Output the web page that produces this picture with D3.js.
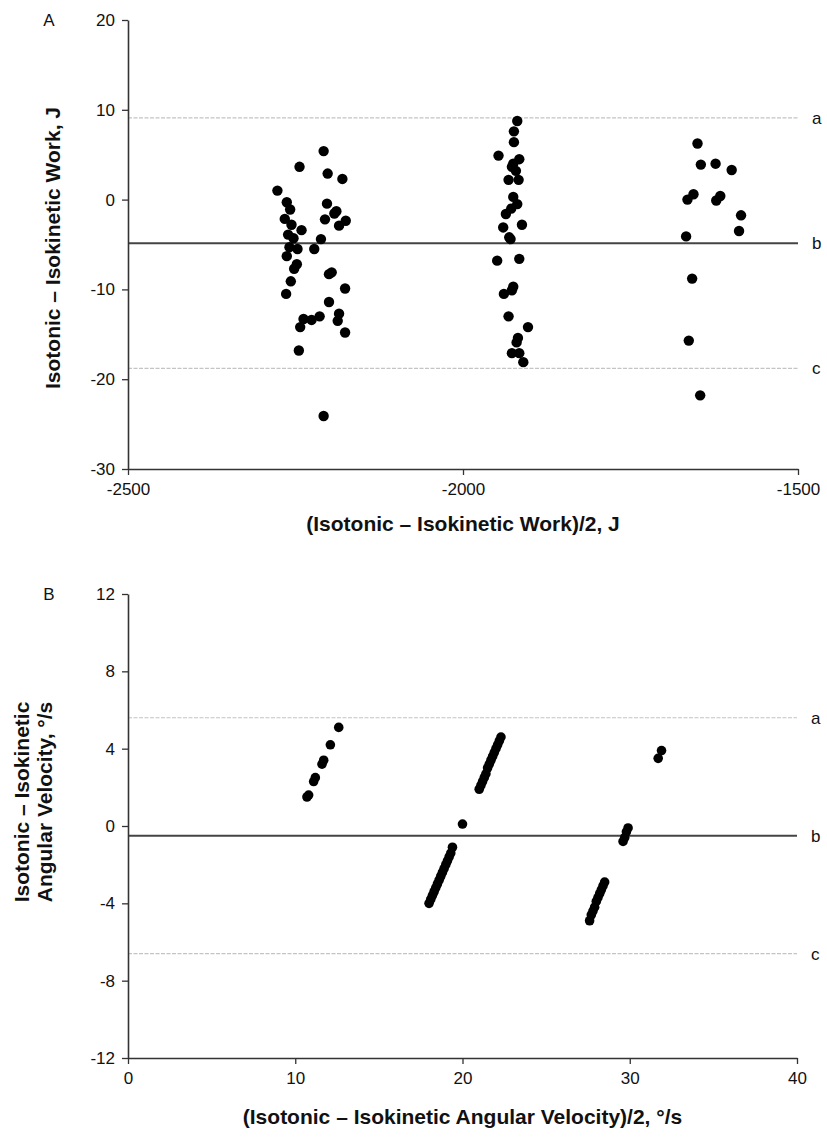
<!DOCTYPE html>
<html lang="en">
<head>
	<meta charset="UTF-8">
	<title>Bland-Altman plots</title>
	<script src="https://d3js.org/d3.v7.min.js"></script>
	<style>
		body { margin: 0; background: #fff; }
		text { font-family: "Liberation Sans", Arial, sans-serif; fill: #111; }
	</style>
</head>
<body>
	<script type="text/javascript">
		// Panel A : work (J)
		const workMean = [
			-2208, -2244, -2202, -2180, -2277, -2263, -2258, -2203, -2189, -2192,
			-2175, -2185, -2206, -2266, -2256, -2241, -2261, -2253, -2212, -2259,
			-2247, -2222, -2263, -2248, -2252, -2200, -2196, -2257, -2176, -2264,
			-2200, -2185, -2187, -2214, -2226, -2238, -2243, -2176, -2245, -2208,
			-1919, -1924, -1924, -1947, -1916, -1925, -1927, -1921, -1917, -1932,
			-1925, -1919, -1928, -1936, -1912, -1940, -1931, -1929, -1949, -1916,
			-1925, -1927, -1939, -1932, -1903, -1918, -1920, -1927, -1916, -1910,
			-1650, -1645, -1623, -1599, -1656, -1665, -1616, -1622, -1585, -1588,
			-1667, -1658, -1663, -1646
		];
		const workDiff = [
			5.4, 3.65, 2.9, 2.3, 1.0, -0.3, -1.1, -0.45, -1.3, -1.55,
			-2.35, -2.9, -2.2, -2.15, -2.8, -3.4, -3.9, -4.3, -4.4, -5.3,
			-5.5, -5.5, -6.3, -7.2, -7.7, -8.3, -8.1, -9.1, -9.9, -10.5,
			-11.4, -12.7, -13.5, -13.0, -13.4, -13.3, -14.2, -14.8, -16.8, -24.1,
			8.75, 7.6, 6.4, 4.9, 4.5, 4.0, 3.65, 3.2, 2.2, 2.2,
			0.3, -0.5, -1.0, -1.6, -2.8, -3.1, -4.2, -4.4, -6.8, -6.6,
			-9.7, -10.1, -10.5, -13.0, -14.2, -15.4, -15.9, -17.1, -17.1, -18.1,
			6.25, 3.9, 4.0, 3.3, 0.6, 0.0, 0.4, -0.1, -1.75, -3.5,
			-4.1, -8.8, -15.7, -21.8
		];
		const workLines = [9.1, -4.85, -18.8];   // a, b, c
		const workXTicks = [-2500, -2000, -1500];
		const workYTicks = [20, 10, 0, -10, -20, -30];

		// Panel B : angular velocity (deg/s)
		const velMean = [
			10.7, 10.8, 11.1, 11.2, 11.6, 11.7, 12.1, 12.6,
			21.0, 21.1, 21.2, 21.3, 21.4, 21.5, 21.6, 21.7, 21.8, 21.9, 22.0, 22.1, 22.2, 22.3,
			20.0,
			18.0, 18.1, 18.2, 18.3, 18.4, 18.5, 18.6, 18.7, 18.8, 18.9, 19.0, 19.1, 19.2, 19.3, 19.4,
			27.6, 27.7, 27.8, 27.9, 28.0, 28.1, 28.2, 28.3, 28.4, 28.5,
			29.6, 29.7, 29.8, 29.9,
			31.7, 31.9
		];
		const velDiff = [
			1.5, 1.6, 2.3, 2.5, 3.2, 3.4, 4.2, 5.1,
			1.9, 2.1, 2.3, 2.5, 2.7, 3.0, 3.2, 3.4, 3.6, 3.8, 4.0, 4.2, 4.4, 4.6,
			0.1,
			-4.0, -3.8, -3.6, -3.4, -3.2, -3.0, -2.8, -2.6, -2.4, -2.2, -2.0, -1.8, -1.6, -1.4, -1.1,
			-4.9, -4.6, -4.4, -4.2, -3.9, -3.7, -3.5, -3.3, -3.1, -2.9,
			-0.8, -0.6, -0.3, -0.1,
			3.5, 3.9
		];
		const velLines = [5.6, -0.5, -6.6];
		const velXTicks = [0, 10, 20, 30, 40];
		const velYTicks = [12, 8, 4, 0, -4, -8, -12];

		const lineNames = ["a", "b", "c"];

		const width = 827;
		const height = 1137;

		const svg = d3.select("body")
			.append("svg")
			.attr("width", width)
			.attr("height", height);

		function panel(opt) {
			const g = svg.append("g");
			const x = d3.scaleLinear().domain(opt.xDomain).range([opt.left, opt.right]);
			const y = d3.scaleLinear().domain(opt.yDomain).range([opt.bottom, opt.top]);

			// reference lines (limits of agreement and mean bias)
			g.selectAll("line.ref")
				.data(opt.lines)
				.enter()
				.append("line")
				.attr("class", "ref")
				.attr("x1", x(opt.xDomain[0]))
				.attr("x2", x(opt.xDomain[1]))
				.attr("y1", (d) => y(d))
				.attr("y2", (d) => y(d))
				.attr("stroke", (d, i) => i === 1 ? "#444" : "#c4c4c4")
				.attr("stroke-width", (d, i) => i === 1 ? 2 : 1.2)
				.attr("stroke-dasharray", (d, i) => i === 1 ? null : "4,1.5");

			g.selectAll("text.ref")
				.data(opt.lines)
				.enter()
				.append("text")
				.attr("class", "ref")
				.attr("x", opt.right + 14)
				.attr("y", (d) => y(d))
				.attr("dy", "0.35em")
				.attr("font-size", "17px")
				.text((d, i) => lineNames[i]);

			// points
			g.selectAll("circle")
				.data(opt.xs)
				.enter()
				.append("circle")
				.attr("cx", (d) => x(d))
				.attr("cy", (d, i) => y(opt.ys[i]))
				.attr("r", opt.r)
				.attr("fill", "#000");

			// axes
			const xAxis = d3.axisBottom(x)
				.tickValues(opt.xTicks)
				.tickFormat((d) => String(d))
				.tickSizeInner(6)
				.tickSizeOuter(0)
				.tickPadding(8);
			const yAxis = d3.axisLeft(y)
				.tickValues(opt.yTicks)
				.tickFormat((d) => String(d))
				.tickSizeInner(6)
				.tickSizeOuter(0)
				.tickPadding(7);

			const gx = g.append("g")
				.attr("transform", "translate(0," + opt.bottom + ")")
				.call(xAxis);
			const gy = g.append("g")
				.attr("transform", "translate(" + opt.left + ",0)")
				.call(yAxis);

			[gx, gy].forEach((a) => {
				a.selectAll("path.domain").attr("stroke", "#333").attr("stroke-width", 1.6);
				a.selectAll(".tick line").attr("stroke", "#333").attr("stroke-width", 1.3);
				a.selectAll(".tick text")
					.attr("font-family", "Liberation Sans, Arial, sans-serif")
					.attr("font-size", "17px")
					.attr("fill", "#111");
			});

			// panel letter
			g.append("text")
				.attr("x", 49)
				.attr("y", opt.top + 6)
				.attr("text-anchor", "middle")
				.attr("font-size", "17px")
				.text(opt.letter);

			// x title
			g.append("text")
				.attr("x", (opt.left + opt.right) / 2)
				.attr("y", opt.bottom + opt.titleGap)
				.attr("text-anchor", "middle")
				.attr("font-size", "21px")
				.attr("font-weight", "bold")
				.text(opt.xTitle);

			// y title (one or two lines)
			const yt = g.append("text")
				.attr("transform", "translate(" + opt.yTitleX + "," + opt.yTitleY + ") rotate(-90)")
				.attr("text-anchor", "middle")
				.attr("font-size", "21px")
				.attr("font-weight", "bold");
			opt.yTitle.forEach((t, i) => {
				yt.append("tspan")
					.attr("x", 0)
					.attr("dy", i === 0 ? 0 : "1.1em")
					.text(t);
			});
		}

		panel({
			letter: "A",
			xDomain: [-2500, -1500], yDomain: [-30, 20],
			left: 128, right: 798, top: 20, bottom: 469,
			xs: workMean, ys: workDiff, r: 5.2,
			lines: workLines, xTicks: workXTicks, yTicks: workYTicks,
			xTitle: "(Isotonic \u2013 Isokinetic Work)/2, J",
			yTitle: ["Isotonic \u2013 Isokinetic Work, J"],
			yTitleX: 60, yTitleY: 248, titleGap: 62
		});

		panel({
			letter: "B",
			xDomain: [0, 40], yDomain: [-12, 12],
			left: 128, right: 797, top: 594, bottom: 1058,
			xs: velMean, ys: velDiff, r: 4.8,
			lines: velLines, xTicks: velXTicks, yTicks: velYTicks,
			xTitle: "(Isotonic \u2013 Isokinetic Angular Velocity)/2, \u00b0/s",
			yTitle: ["Isotonic \u2013 Isokinetic", "Angular Velocity, \u00b0/s"],
			yTitleX: 29, yTitleY: 802, titleGap: 66
		});
	</script>
</body>
</html>
